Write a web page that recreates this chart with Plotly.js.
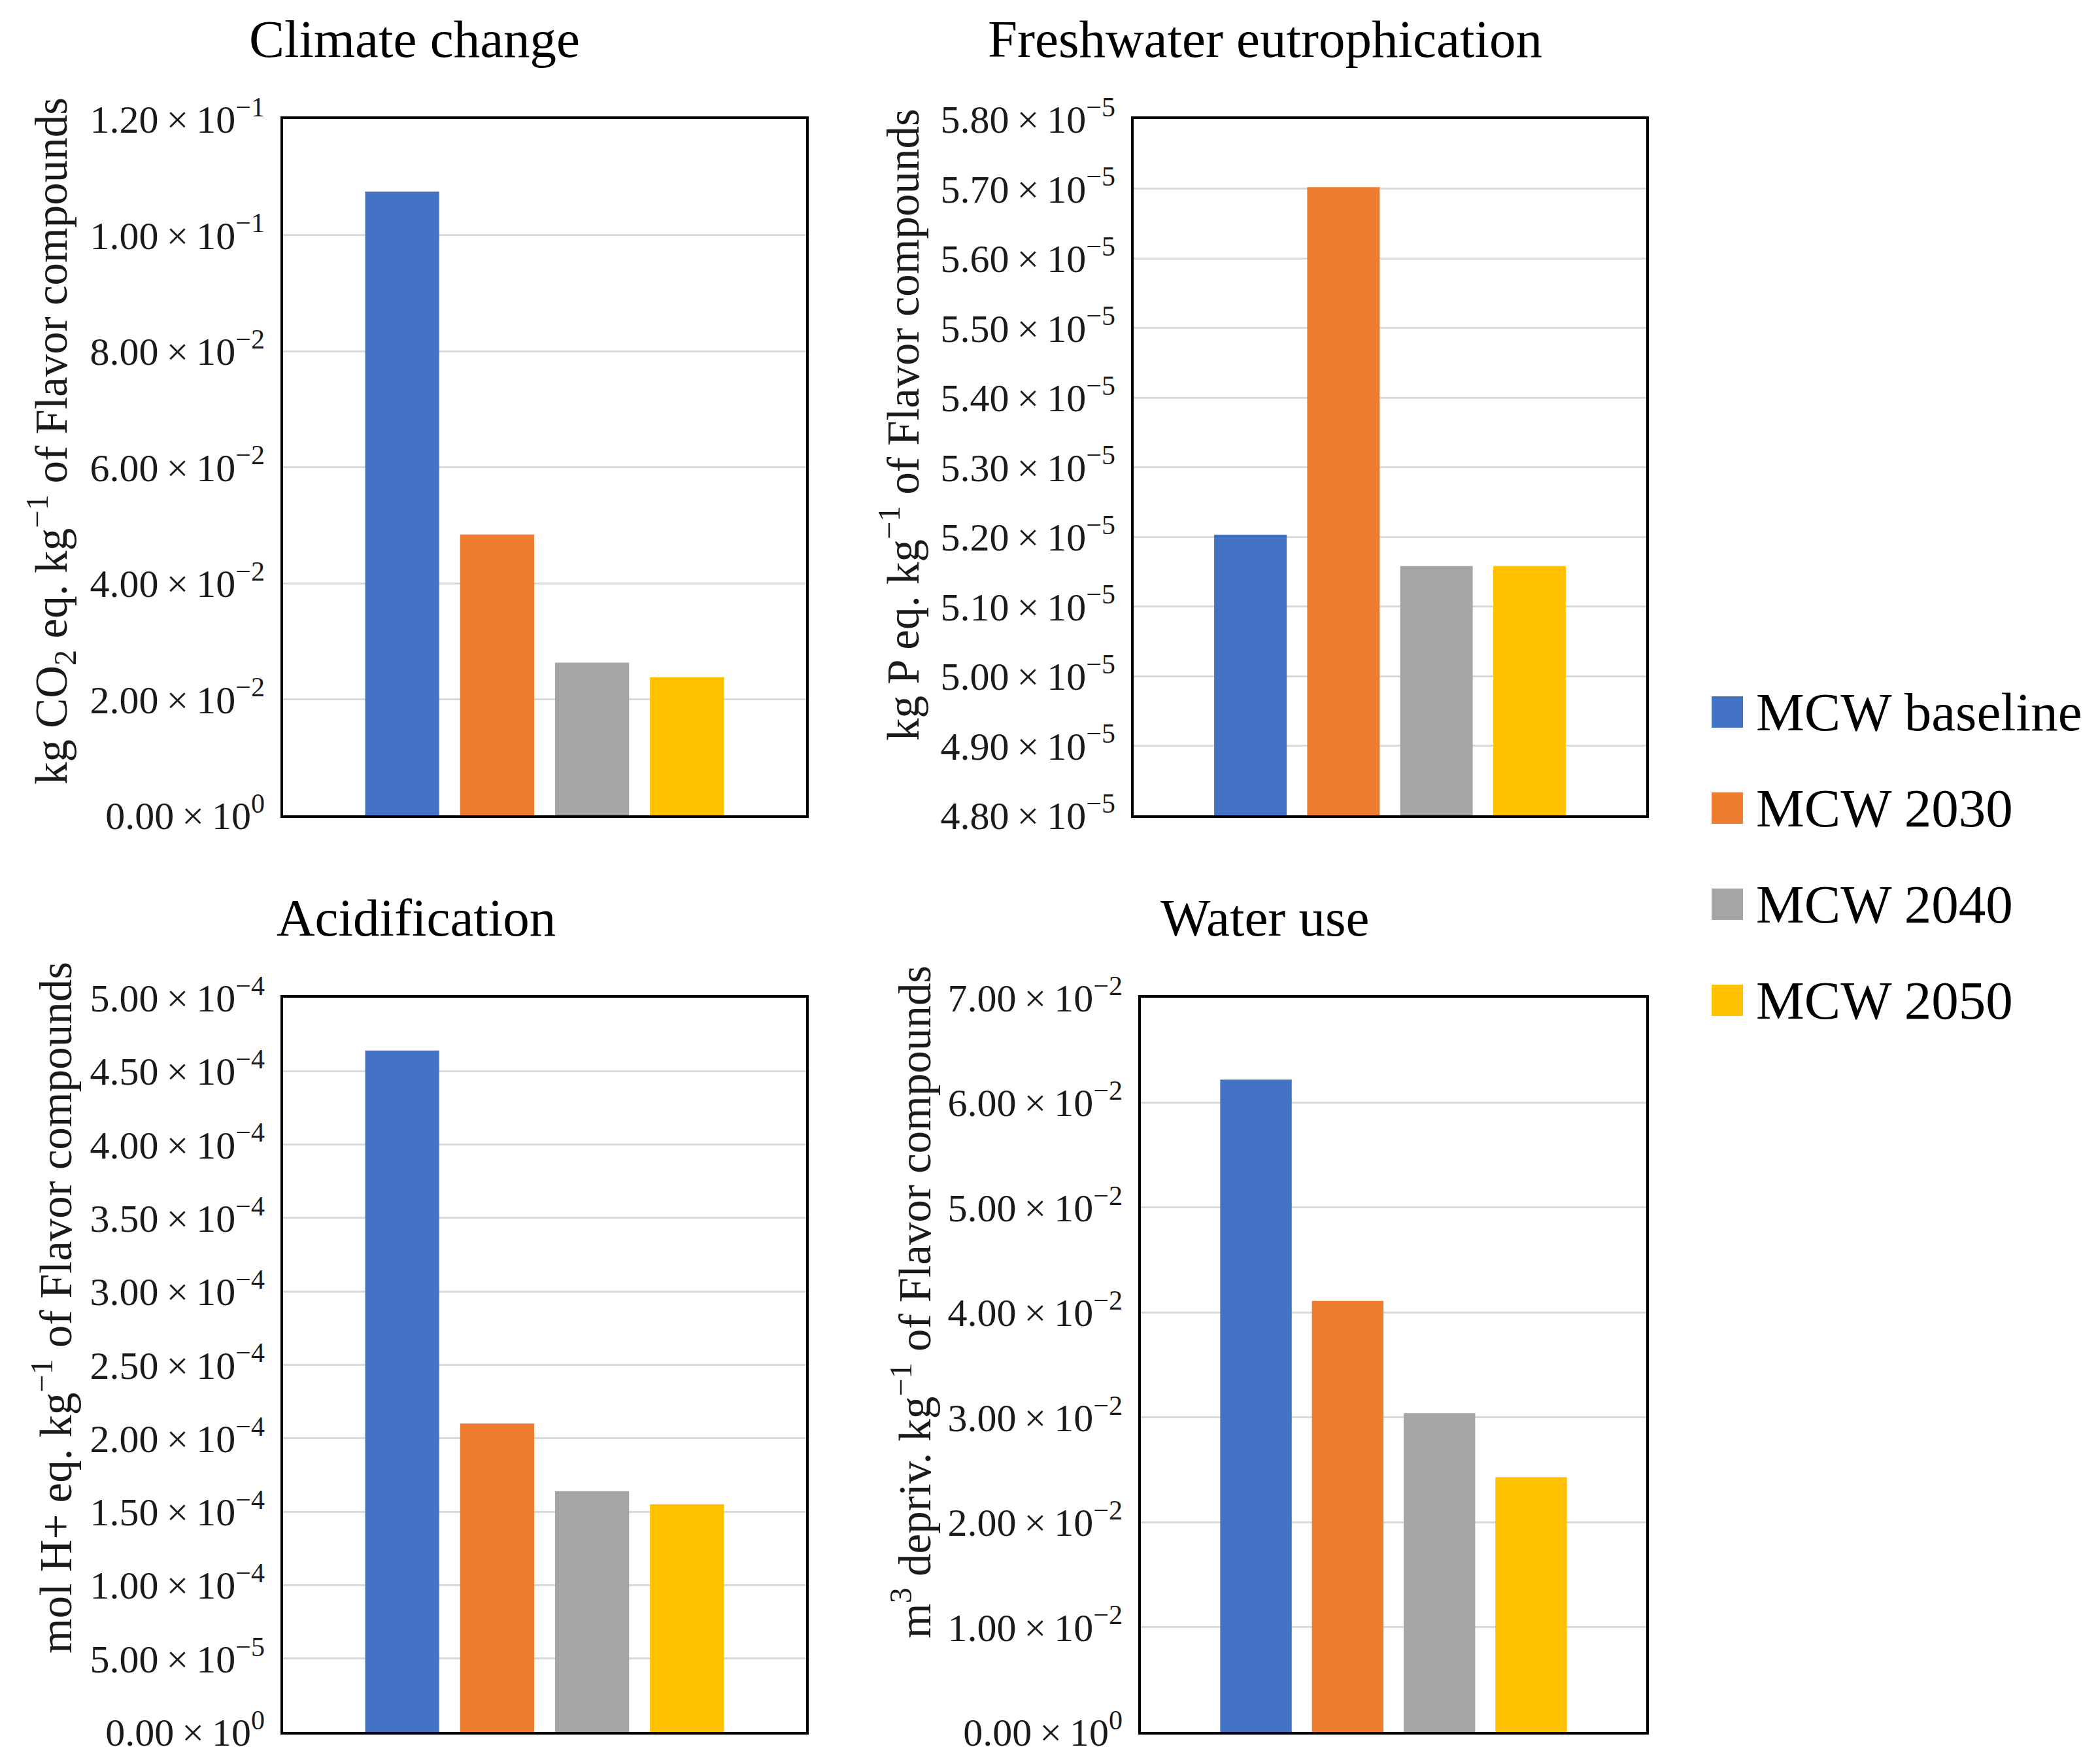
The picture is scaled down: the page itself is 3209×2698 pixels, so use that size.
<!DOCTYPE html>
<html>
<head>
<meta charset="utf-8">
<script src="https://cdn.plot.ly/plotly-3.0.1.min.js"></script>
<style>html,body{margin:0;padding:0;background:#fff;}#chart{width:3209px;height:2698px;}</style>
</head>
<body>
<div id="chart"></div>
<script>
// ---------- data ----------
const impactTitles = ['Climate change', 'Freshwater eutrophication', 'Acidification', 'Water use'];
const yAxisTitles = [
  'kg CO<sub>2</sub> eq. kg<sup>−1</sup> of Flavor compounds',
  'kg P eq. kg<sup>−1</sup> of Flavor compounds',
  'mol H+ eq. kg<sup>−1</sup> of Flavor compounds',
  'm<sup>3</sup> depriv. kg<sup>−1</sup> of Flavor compounds'
];
const category = ['Flavor compounds'];
const seriesNames = ['MCW baseline', 'MCW 2030', 'MCW 2040', 'MCW 2050'];
const seriesColors = ['#4472C4', '#ED7D31', '#A5A5A5', '#FFC000'];
// values per impact category: [climate change, freshwater eutrophication, acidification, water use]
const mcwBaseline = [0.1075, 5.203e-5, 4.64e-4, 0.0622];
const mcw2030     = [0.0484, 5.702e-5, 2.10e-4, 0.0411];
const mcw2040     = [0.0263, 5.158e-5, 1.64e-4, 0.0304];
const mcw2050     = [0.0238, 5.158e-5, 1.55e-4, 0.0243];
const seriesValues = [mcwBaseline, mcw2030, mcw2040, mcw2050];
// axis ticks
const ticksClimate = [0, 0.02, 0.04, 0.06, 0.08, 0.10, 0.12];
const ticksEutro = [4.8e-5, 4.9e-5, 5.0e-5, 5.1e-5, 5.2e-5, 5.3e-5, 5.4e-5, 5.5e-5, 5.6e-5, 5.7e-5, 5.8e-5];
const ticksAcid = [0, 0.5e-4, 1.0e-4, 1.5e-4, 2.0e-4, 2.5e-4, 3.0e-4, 3.5e-4, 4.0e-4, 4.5e-4, 5.0e-4];
const ticksWater = [0, 0.01, 0.02, 0.03, 0.04, 0.05, 0.06, 0.07];
const tickSets = [ticksClimate, ticksEutro, ticksAcid, ticksWater];

// ---------- helpers ----------
const W = 3209, H = 2698;
const px = x => x / W;
const py = y => 1 - y / H;
function sci(v) {
  if (v === 0) return '0.00\u2009×\u200910<sup>0</sup>';
  let e = Math.floor(Math.log10(Math.abs(v)) + 1e-9);
  let m = v / Math.pow(10, e);
  const es = e < 0 ? '−' + (-e) : String(e);
  return m.toFixed(2) + '\u2009×\u200910<sup>' + es + '</sup>';
}
const FONT = 'Liberation Serif, Times New Roman, serif';
const INK = '#1a1a1a';

// panel boxes in pixels [left, right, top, bottom]
const boxes = [
  [433, 1233, 182, 1247],
  [1734, 2518, 182, 1247],
  [433, 1233, 1526, 2649],
  [1745, 2518, 1526, 2649]
];
const titlePos = [[634, 60], [1935, 60], [636, 1404], [1935, 1404]];
const yTitlePos = [[78, 675], [1376, 650], [80, 2000], [1394, 1992]];

const data = [];
const layout = {
  width: W, height: H, autosize: false,
  margin: {l: 0, r: 0, t: 0, b: 0},
  paper_bgcolor: '#fff', plot_bgcolor: '#fff',
  showlegend: false,
  barmode: 'group', bargap: 0.274, bargroupgap: 0.22,
  font: {family: FONT, color: INK, size: 60},
  annotations: [], shapes: []
};

for (let i = 0; i < 4; i++) {
  const sfx = i === 0 ? '' : String(i + 1);
  const b = boxes[i];
  const ticks = tickSets[i];
  for (let s = 0; s < seriesNames.length; s++) {
    data.push({
      type: 'bar', name: seriesNames[s], x: category, y: [seriesValues[s][i]],
      marker: {color: seriesColors[s], line: {width: 0}},
      xaxis: 'x' + sfx, yaxis: 'y' + sfx, hoverinfo: 'y+name'
    });
  }
  layout['xaxis' + sfx] = {
    domain: [px(b[0]), px(b[1])], anchor: 'y' + sfx,
    type: 'category', range: [-0.5, 0.5],
    showticklabels: false, ticks: '', showgrid: false, zeroline: false,
    showline: true, mirror: true, linecolor: '#000', linewidth: 4
  };
  layout['yaxis' + sfx] = {
    domain: [py(b[3]), py(b[2])], anchor: 'x' + sfx,
    range: [ticks[0], ticks[ticks.length - 1]],
    tickmode: 'array', tickvals: ticks, ticktext: ticks.map(sci),
    tickfont: {family: FONT, size: 60, color: INK},
    ticks: '', ticklabelstandoff: 12,
    showgrid: true, gridcolor: '#d9d9d9', gridwidth: 3, zeroline: false,
    showline: true, mirror: true, linecolor: '#000', linewidth: 4
  };
  layout.annotations.push({
    text: impactTitles[i], xref: 'paper', yref: 'paper',
    x: px(titlePos[i][0]), y: py(titlePos[i][1]), xanchor: 'center', yanchor: 'middle',
    showarrow: false, font: {family: FONT, size: 81, color: '#000'}
  });
  layout.annotations.push({
    text: yAxisTitles[i], xref: 'paper', yref: 'paper', textangle: -90,
    x: px(yTitlePos[i][0]), y: py(yTitlePos[i][1]), xanchor: 'center', yanchor: 'middle',
    showarrow: false, font: {family: FONT, size: 69, color: INK}
  });
}

// legend (drawn as shapes + text, from the series arrays)
const legendX = 2618, legendY0 = 1089, legendStep = 147, sq = 48;
for (let s = 0; s < seriesNames.length; s++) {
  const cy = legendY0 + s * legendStep;
  layout.shapes.push({
    type: 'rect', xref: 'paper', yref: 'paper',
    x0: px(legendX), x1: px(legendX + sq), y0: py(cy + sq / 2), y1: py(cy - sq / 2),
    fillcolor: seriesColors[s], line: {width: 0}
  });
  layout.annotations.push({
    text: seriesNames[s], xref: 'paper', yref: 'paper',
    x: px(legendX + sq + 18), y: py(cy), xanchor: 'left', yanchor: 'middle',
    showarrow: false, font: {family: FONT, size: 83, color: '#000'}
  });
}

Plotly.newPlot('chart', data, layout, {displayModeBar: false});
</script>
</body>
</html>
